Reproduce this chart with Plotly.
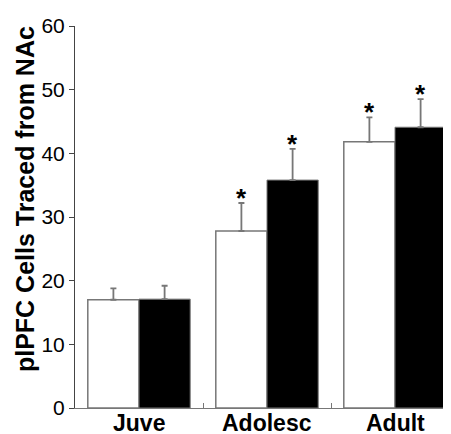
import plotly.graph_objects as go

categories = ["Juve", "Adolesc", "Adult"]
white_vals = [17.0, 27.8, 41.8]
white_err = [1.8, 4.4, 3.85]
black_vals = [17.1, 35.8, 44.1]
black_err = [2.1, 4.9, 4.4]
white_sig = [False, True, True]
black_sig = [False, True, True]
y_ticks = [0, 10, 20, 30, 40, 50, 60]
y_title = "plPFC Cells Traced from NAc"

GREY = "#777777"
FONT = "Liberation Sans, Arial, sans-serif"

fig = go.Figure()
fig.add_trace(go.Bar(
    x=categories, y=white_vals, name="white",
    marker=dict(color="white", line=dict(color=GREY, width=1.5)),
    error_y=dict(type="data", array=white_err, arrayminus=[0] * 3, symmetric=False,
                 color=GREY, thickness=1.8, width=3),
))
fig.add_trace(go.Bar(
    x=categories, y=black_vals, name="black",
    marker=dict(color="black", line=dict(color=GREY, width=1)),
    error_y=dict(type="data", array=black_err, arrayminus=[0] * 3, symmetric=False,
                 color=GREY, thickness=1.8, width=3),
))

annotations = []
for i in range(len(categories)):
    for off, vals, errs, sig in ((-0.2, white_vals, white_err, white_sig),
                                 (0.2, black_vals, black_err, black_sig)):
        if sig[i]:
            annotations.append(dict(
                x=i + off, y=vals[i] + errs[i], xref="x", yref="y",
                text="<b>*</b>", showarrow=False, yanchor="bottom",
                yshift=-12, font=dict(family=FONT, size=26, color="black"),
            ))
for i, cat in enumerate(categories):
    annotations.append(dict(
        x=i, y=0, xref="x", yref="paper", text="<b>" + cat + "</b>",
        showarrow=False, yanchor="top", yshift=-1, borderpad=0,
        font=dict(family=FONT, size=23, color="black"),
    ))
annotations.append(dict(
    x=-0.1302, y=0.547, xref="paper", yref="paper", text="<b>" + y_title + "</b>",
    textangle=-90, showarrow=False, xanchor="center", yanchor="middle",
    font=dict(family=FONT, size=25, color="black"),
))

fig.update_layout(
    width=451, height=434,
    margin=dict(l=67, r=0, t=18, b=34),
    paper_bgcolor="white", plot_bgcolor="white",
    barmode="group", bargap=0.2, bargroupgap=0,
    showlegend=False,
    annotations=annotations,
    font=dict(family=FONT, color="black"),
    xaxis=dict(
        range=[-0.5, 2.5], showline=True, linecolor=GREY, linewidth=1,
        ticks="inside", tickson="boundaries", ticklen=5, tickcolor=GREY,
        showticklabels=False,
        showgrid=False, zeroline=False, automargin=False,
    ),
    yaxis=dict(
        range=[0, 60], tickvals=y_ticks, showline=True, linecolor="#444444",
        linewidth=1, ticks="outside", ticklen=5, tickcolor="#444444",
        tickfont=dict(family=FONT, size=21, color="black"),
        showgrid=False, zeroline=False, automargin=False,
    ),
)

fig.write_html("out.html")
